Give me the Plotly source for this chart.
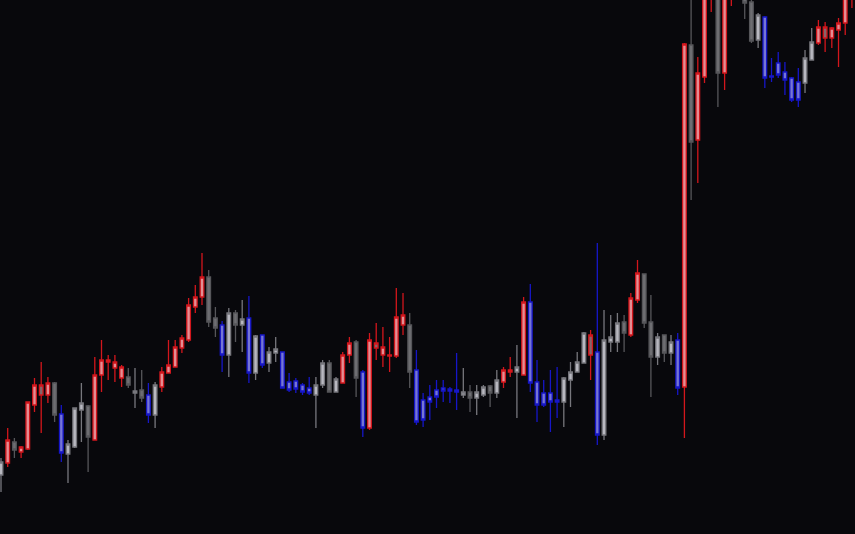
import plotly.graph_objects as go

# candle colour group: R red, RD red wick/dark body, B blue, L light grey, D dark grey
groups = [
    "L", "R", "D", "R", "R", "R", "RD", "R", "D", "B",
    "L", "L", "L", "D", "R", "R", "R", "R", "R", "D",
    "L", "D", "B", "L", "R", "R", "R", "R", "R", "R",
    "R", "D", "D", "B", "L", "D", "L", "B", "L", "B",
    "L", "L", "B", "B", "B", "B", "B", "L", "L", "D",
    "L", "R", "R", "D", "B", "R", "RD", "R", "R", "R",
    "R", "D", "B", "B", "B", "B", "B", "B", "B", "L",
    "D", "L", "L", "D", "L", "R", "R", "L", "R", "B",
    "B", "B", "B", "B", "L", "L", "L", "L", "RD", "B",
    "L", "L", "L", "D", "R", "R", "D", "D", "L", "D",
    "L", "B", "R", "D", "R", "R", "R", "D", "R", "R",
    "D", "D", "D", "L", "B", "B", "B", "B", "B", "B",
    "L", "L", "R", "RD", "R", "R", "R", "R",
]

opens = [
    59, 71, 92, 82, 85, 129, 139, 139, 151, 120,
    80, 87, 124, 128, 94, 159, 172, 166, 156, 157,
    141, 144, 139, 119, 147, 161, 167, 186, 194, 227,
    237, 257, 216, 209, 179, 221, 209, 216, 161, 199,
    171, 181, 182, 152, 153, 149, 146, 139, 149, 171,
    142, 151, 179, 192, 162, 106, 186, 179, 178, 178,
    209, 209, 164, 134, 137, 144, 146, 145, 144, 139,
    142, 136, 139, 148, 141, 152, 162, 162, 159, 232,
    152, 141, 141, 134, 132, 154, 162, 171, 179, 182,
    99, 192, 192, 212, 199, 234, 260, 212, 177, 199,
    181, 194, 147, 489, 394, 457, 554, 574, 461, 549,
    579, 554, 532, 494, 517, 458, 471, 462, 456, 452,
    451, 474, 491, 496, 496, 504, 511, 542,
]
highs = [
    76, 106, 96, 88, 132, 156, 172, 157, 152, 129,
    94, 126, 151, 129, 177, 194, 179, 179, 169, 166,
    166, 164, 151, 152, 167, 194, 194, 199, 236, 249,
    281, 264, 227, 213, 226, 224, 234, 238, 199, 199,
    187, 197, 182, 161, 156, 151, 157, 157, 174, 174,
    157, 182, 197, 194, 164, 201, 211, 207, 197, 246,
    241, 221, 184, 141, 149, 154, 154, 147, 181, 166,
    149, 149, 149, 149, 164, 167, 177, 189, 237, 250,
    174, 154, 164, 167, 157, 172, 182, 202, 204, 291,
    224, 219, 221, 219, 241, 274, 260, 239, 201, 199,
    199, 201, 491, 549, 477, 574, 609, 584, 579, 594,
    589, 559, 537, 521, 518, 476, 482, 472, 457, 466,
    484, 506, 514, 512, 507, 516, 554, 584,
]
lows = [
    42, 67, 76, 76, 84, 122, 101, 131, 112, 72,
    51, 86, 92, 62, 94, 142, 154, 152, 147, 146,
    126, 132, 111, 106, 142, 161, 167, 181, 192, 221,
    229, 207, 197, 162, 157, 192, 182, 151, 154, 166,
    162, 172, 146, 142, 141, 139, 139, 106, 146, 142,
    142, 151, 171, 137, 97, 104, 174, 167, 162, 176,
    199, 146, 109, 107, 114, 126, 132, 131, 124, 136,
    122, 119, 137, 127, 136, 146, 157, 116, 159, 142,
    112, 127, 102, 116, 107, 127, 162, 171, 154, 89,
    94, 182, 182, 182, 197, 231, 206, 137, 169, 172,
    169, 139, 96, 334, 351, 451, 522, 427, 444, 528,
    536, 515, 491, 486, 446, 452, 456, 439, 432, 427,
    441, 474, 489, 482, 486, 467, 499, 526,
]
closes = [
    72, 94, 84, 87, 132, 149, 149, 151, 119, 81,
    90, 126, 131, 97, 159, 174, 174, 172, 167, 149,
    143, 136, 119, 149, 162, 169, 187, 196, 229, 237,
    257, 212, 206, 179, 221, 209, 215, 161, 198, 169,
    182, 185, 146, 144, 145, 142, 141, 149, 171, 142,
    155, 179, 191, 156, 106, 194, 191, 187, 179, 217,
    219, 162, 112, 114, 132, 137, 143, 143, 142, 142,
    136, 142, 147, 141, 154, 164, 164, 167, 232, 151,
    129, 129, 132, 132, 156, 162, 172, 201, 199, 99,
    194, 197, 211, 201, 236, 261, 211, 177, 197, 181,
    192, 146, 490, 392, 461, 564, 594, 461, 564, 584,
    544, 531, 493, 519, 456, 457, 459, 454, 434, 434,
    476, 492, 507, 507, 506, 511, 544, 574,
]

styles = {
    "R": ("#d3161c", "#e48e94"),
    "RD": ("#d3161c", "#86666b"),
    "B": ("#1616c8", "#7676d4"),
    "L": ("#77777d", "#b8b8c0"),
    "D": ("#56565a", "#6e6e72"),
}

fig = go.Figure()
for g, (line_col, fill_col) in styles.items():
    idx = [i for i, c in enumerate(groups) if c == g]
    side = dict(line=dict(color=line_col, width=1.3), fillcolor=fill_col)
    fig.add_trace(go.Candlestick(
        x=idx,
        open=[opens[i] for i in idx],
        high=[highs[i] for i in idx],
        low=[lows[i] for i in idx],
        close=[closes[i] for i in idx],
        increasing=side,
        decreasing=side,
        whiskerwidth=0,
        hoverinfo="skip",
        showlegend=False,
    ))

bg = "#08080c"
fig.update_layout(
    width=855,
    height=534,
    margin=dict(l=0, r=0, t=0, b=0),
    paper_bgcolor=bg,
    plot_bgcolor=bg,
    boxgap=0.22,
    xaxis=dict(visible=False, range=[-0.149, 127.46],
               rangeslider=dict(visible=False)),
    yaxis=dict(visible=False, range=[0, 534]),
)

# drop the browser's default page margin so the chart fills the window
fig.write_html(
    "out.html",
    config={"displayModeBar": False},
    post_script="document.body.style.margin='0';"
                "document.body.style.background='" + bg + "';",
)
